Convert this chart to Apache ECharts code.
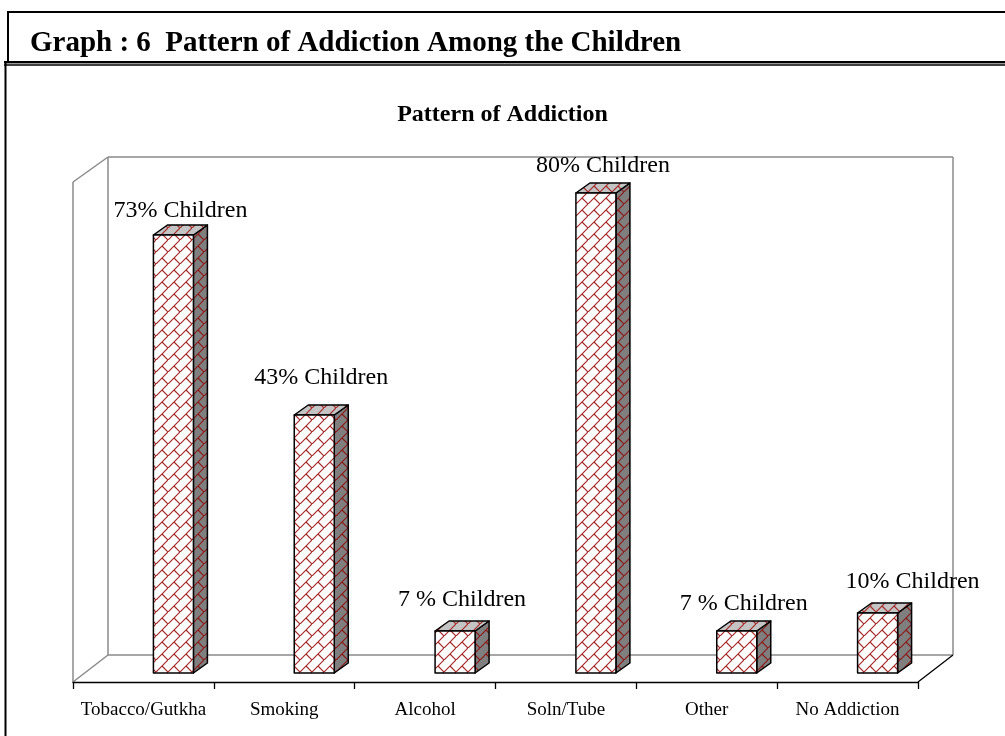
<!DOCTYPE html>
<html>
<head>
<meta charset="utf-8">
<title>Pattern of Addiction Among the Children</title>
<script src="https://cdn.jsdelivr.net/npm/echarts@6/dist/echarts.min.js"></script>
<style>
  html, body { margin: 0; padding: 0; background: #ffffff; }
  #chart { width: 1005px; height: 736px; }
</style>
</head>
<body>
<div id="chart"></div>
<script>
// ---- data ----
const categories = ['Tobacco/Gutkha', 'Smoking', 'Alcohol', 'Soln/Tube', 'Other', 'No Addiction'];
const shares = [73, 43, 7, 80, 7, 10];          // % of children
const barLabels = ['73% Children', '43% Children', '7 % Children', '80% Children', '7 % Children', '10% Children'];

// ---- styling helpers ----
const SERIF = '"Liberation Serif", "Times New Roman", serif';

// Diagonal-brick hatch tile
function brickTile(bg, ink) {
  const c = document.createElement('canvas');
  c.width = 12; c.height = 12;
  const g = c.getContext('2d');
  g.fillStyle = bg;
  g.fillRect(0, 0, 12, 12);
  g.strokeStyle = ink;
  g.lineWidth = 1.2;
  g.beginPath();
  g.moveTo(-1, 13); g.lineTo(13, -1);
  g.moveTo(6, 6); g.lineTo(13, 13);
  g.stroke();
  return c;
}
const frontFill = { image: brickTile('#ffffff', '#a52a2a'), repeat: 'repeat' };
const topFill   = { image: brickTile('#c4c4c4', '#a52a2a'), repeat: 'repeat' };
const sideFill  = { image: brickTile('#7f7f7f', '#8b1a1a'), repeat: 'repeat' };

// bar geometry (pixels)
const BAR = { shift: 30, lift: 9, half: 20, dx: 14, dy: 10 };
// per-label nudges [dx, gap above bar top]
const labelNudge = [[0, 14], [0, 27], [0, 21], [0, 17], [0, 17], [28, 21]];

function renderBar(params, api) {
  const i = api.value(0);
  const v = api.value(1);
  const base = api.coord([i, 0]);
  const top = api.coord([i, v]);
  const cx = base[0] + BAR.shift;
  const x0 = cx - BAR.half, x1 = cx + BAR.half;
  const yb = base[1] - BAR.lift, yt = top[1] - BAR.lift;
  const edge = { stroke: '#000', lineWidth: 1.5, lineJoin: 'round' };
  const nudge = labelNudge[params.dataIndex];
  return {
    type: 'group',
    children: [
      {
        type: 'polygon',
        shape: { points: [[x1, yt], [x1 + BAR.dx, yt - BAR.dy], [x1 + BAR.dx, yb - BAR.dy], [x1, yb]] },
        style: Object.assign({ fill: sideFill }, edge)
      },
      {
        type: 'polygon',
        shape: { points: [[x0, yt], [x0 + BAR.dx, yt - BAR.dy], [x1 + BAR.dx, yt - BAR.dy], [x1, yt]] },
        style: Object.assign({ fill: topFill }, edge)
      },
      {
        type: 'rect',
        shape: { x: x0, y: yt, width: x1 - x0, height: yb - yt },
        style: Object.assign({ fill: frontFill }, edge)
      },
      {
        type: 'text',
        style: {
          text: barLabels[params.dataIndex],
          x: cx + BAR.dx / 2 + nudge[0],
          y: yt - BAR.dy - nudge[1],
          align: 'center',
          verticalAlign: 'middle',
          fill: '#000',
          font: '24px ' + SERIF
        }
      }
    ]
  };
}

// ---- 3D plot box (walls and floor) ----
const wall = { stroke: '#8a8a8a', lineWidth: 1.5 };
function seg(x1, y1, x2, y2, style) {
  return { type: 'line', shape: { x1, y1, x2, y2 }, style, silent: true, z: 0 };
}
const box = [
  seg(73, 182, 73, 682, wall),      // left wall, front edge
  seg(73, 182, 108, 157, wall),     // left wall, top edge
  seg(108, 157, 108, 655, wall),    // back-left corner
  seg(108, 157, 953, 157, wall),    // back wall top
  seg(953, 157, 953, 655, wall),    // back wall right
  seg(108, 655, 953, 655, wall),    // floor back edge
  seg(73, 682, 108, 655, wall),     // floor left edge
  seg(918, 682, 953, 655, { stroke: '#000', lineWidth: 1.3 })  // floor right edge
];

// ---- page frame ----
const ink = { stroke: '#000', lineWidth: 2 };
const frame = [
  seg(7, 12, 1005, 12, ink),
  seg(8, 11, 8, 62, ink),
  seg(4, 62, 1005, 62, ink),
  seg(4, 63.5, 1005, 63.5, { stroke: '#9a9a9a', lineWidth: 1 }),
  seg(4, 65, 1005, 65, { stroke: '#000', lineWidth: 1.5 }),
  seg(5.5, 62, 5.5, 736, ink),
  {
    type: 'text', z: 1,
    style: {
      text: 'Graph : 6  Pattern of Addiction Among the Children',
      x: 30, y: 44, verticalAlign: 'middle',
      fill: '#000', font: 'bold 29px ' + SERIF
    }
  }
];

const chart = echarts.init(document.getElementById('chart'), null, { renderer: 'canvas' });
chart.setOption({
  backgroundColor: '#ffffff',
  animation: false,
  title: {
    text: 'Pattern of Addiction',
    left: 'center',
    top: 98,
    textStyle: { fontFamily: SERIF, fontWeight: 'bold', fontSize: 24, color: '#000' }
  },
  grid: { left: 73, right: 87, top: 142, bottom: 54 },
  xAxis: {
    type: 'category',
    data: categories,
    axisLine: { lineStyle: { color: '#000', width: 1.3 } },
    axisTick: { show: true, interval: 0, length: 7, lineStyle: { color: '#000', width: 1.3 } },
    axisLabel: { interval: 0, margin: 19, color: '#000', fontFamily: SERIF, fontSize: 19 },
    splitLine: { show: false }
  },
  yAxis: { type: 'value', min: 0, max: 90, show: false },
  graphic: box.concat(frame),
  series: [{
    type: 'custom',
    renderItem: renderBar,
    data: shares.map((v, i) => [i, v]),
    z: 5
  }]
});
</script>
</body>
</html>
